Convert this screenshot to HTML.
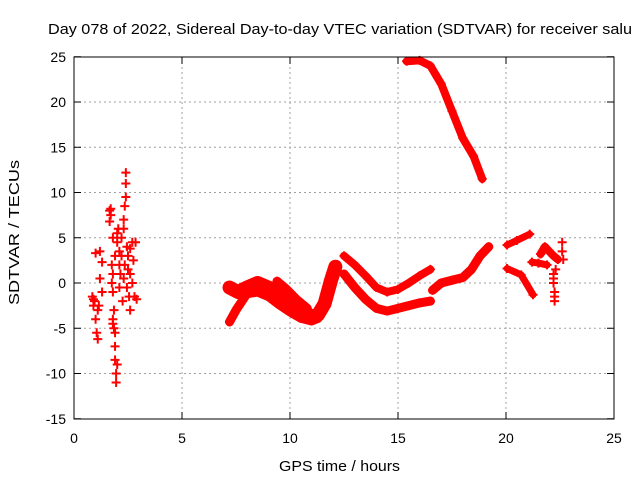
<!DOCTYPE html>
<html><head><meta charset="utf-8"><style>
body{margin:0;background:#fff}
svg{display:block;font-family:"Liberation Sans",sans-serif}
</style></head><body>
<svg id="c" width="640" height="480">
<text x="48" y="34" font-size="15" textLength="584" lengthAdjust="spacingAndGlyphs">Day 078 of 2022, Sidereal Day-to-day VTEC variation (SDTVAR) for receiver salu</text>
<text x="279" y="471" font-size="15" textLength="121" lengthAdjust="spacingAndGlyphs">GPS time / hours</text>
<text transform="translate(19,305) rotate(-90)" font-size="15" textLength="145" lengthAdjust="spacingAndGlyphs">SDTVAR / TECUs</text>
<g id="grid"></g><g id="marks"></g>
<rect x="74" y="57" width="540" height="362" fill="none" stroke="#000" stroke-width="1"/>
</svg>
<script>
const xTicks=[0,5,10,15,20,25];
const yTicks=[-15,-10,-5,0,5,10,15,20,25];
const scatterPts=[[0.85,-1.5],[0.9,-2.5],[0.95,-2],[1.0,-4],[1.05,-5.5],[1.1,-6.2],[1.0,3.3],[1.2,3.5],[1.15,-2.5],[1.2,0.5],[1.3,2.3],[1.3,-1],[0.9,-1.8],[1.1,-3],
[1.65,8],[1.7,7.5],[1.65,6.8],[1.8,5],[1.8,-4],[1.85,-5],[1.9,-7],[1.9,-8.5],[1.95,-10],[1.95,-11],[1.85,-3],[1.8,1],[1.75,0],[1.9,3],[1.7,8.2],[1.8,-4.5],[1.9,-5.5],[2.0,-9],[1.75,2],[1.8,-1],
[2.0,4.5],[2.05,6],[2.1,2],[2.1,-0.5],[2.2,5],[2.2,3],[2.25,-2],[2.3,0.5],[2.3,7],[2.35,8.5],[2.4,9.5],[2.4,11],[2.4,12.2],[2.45,4],[2.0,5.5],[2.1,3.5],[2.15,1],[2.3,6],[2.35,2],
[2.5,1.5],[2.55,-1.5],[2.6,-3],[2.6,3.8],[2.7,4.5],[2.75,2.5],[2.8,-1.5],[2.85,4.5],[2.9,-1.8],[2.45,-0.5],[2.5,3],[2.7,0],[2.6,1]];
const segA=[[7.2,-0.5],[7.6,-1],[8,-0.5],[8.5,0],[9,-0.5],[9.5,-1.3],[10,-2.3],[10.5,-3.2],[11,-3.7],[11.3,-3.5],[11.6,-2.3],[11.9,0.3],[12.1,1.8]];
const segA2=[[7.2,-4.3],[7.5,-3],[8,-1.2],[8.5,-1],[9,-1.5],[9.5,-2.4],[10,-3.2],[10.5,-3.9],[11,-4.2],[11.3,-3.9]];
const segA3=[[9.4,0.2],[9.8,-0.6],[10.3,-1.8],[10.8,-2.8]];
const segB1=[[12.5,3],[13,2],[13.5,0.8],[14,-0.5],[14.5,-1],[15,-0.7],[15.5,0],[16,0.8],[16.5,1.5]];
const segB2=[[12.5,1],[13,-0.5],[13.5,-1.8],[14,-2.8],[14.5,-3.1],[15,-2.8],[15.5,-2.5],[16,-2.2],[16.5,-2]];
const segC=[[16.6,-0.8],[17,0],[17.5,0.3],[18,0.6],[18.4,1.5],[18.8,3],[19.2,4]];
const segD=[[15.4,24.5],[16,24.6],[16.5,24],[17,22],[17.5,19],[18,16],[18.5,14],[18.9,11.5]];
const segE1=[[20.05,4.2],[20.5,4.7],[21.1,5.4]];
const segE2=[[20.05,1.6],[20.7,0.9],[21.25,-1.3]];
const segE3=[[21.6,3.2],[21.8,4],[22.0,3.5],[22.2,3],[22.4,2.6]];
const segE4=[[21.2,2.3],[21.5,2.2],[21.9,2]];
const sparseE=[[22.2,1],[22.2,0],[22.25,-1],[22.25,-2],[22.6,4.5],[22.6,3.5],[22.65,2.6],[22.3,1.5],[22.2,0.5],[22.25,-1.5]];
const X=v=>74+v*21.6, Y=v=>283-v*9.05;
const ns="http://www.w3.org/2000/svg";
const g=document.getElementById('grid'), m=document.getElementById('marks');
function mk(t,a,p){const e=document.createElementNS(ns,t);for(const k in a)e.setAttribute(k,a[k]);p.appendChild(e);return e;}
xTicks.forEach(v=>{
 if(v>0&&v<25){const l=mk('line',{x1:X(v),x2:X(v),y1:57,y2:419,stroke:'#a0a0a0','stroke-dasharray':'2,3'},g);
 
 }
 const t=mk('text',{x:X(v),y:443,'font-size':14,'text-anchor':'middle'},g);t.textContent=v;
 
 
 mk('line',{x1:X(v),x2:X(v),y1:419,y2:412,stroke:'#000'},g);mk('line',{x1:X(v),x2:X(v),y1:57,y2:64,stroke:'#000'},g);
});
yTicks.forEach(v=>{
 if(v>-15&&v<25){const l=mk('line',{x1:74,x2:614,y1:Y(v),y2:Y(v),stroke:'#a0a0a0','stroke-dasharray':'2,3'},g);
 
 }
 const t=mk('text',{x:66,y:Y(v)+5,'font-size':14,'text-anchor':'end'},g);t.textContent=v;
 
 
 mk('line',{x1:74,x2:81,y1:Y(v),y2:Y(v),stroke:'#000'},g);mk('line',{x1:614,x2:607,y1:Y(v),y2:Y(v),stroke:'#000'},g);
});
function plus(p){const x=X(p[0]),y=Y(p[1]);
 const e=mk('path',{d:`M${x-4.5},${y}H${x+4.5}M${x},${y-4.5}V${y+4.5}`,stroke:'red','stroke-width':2},m);
 
 }
function band(arr,w){const e=mk('polyline',{points:arr.map(p=>X(p[0])+','+Y(p[1])).join(' '),fill:'none',stroke:'red','stroke-width':w,'stroke-linejoin':'round','stroke-linecap':'round'},m);
 
 
 arr.forEach(plus);}
scatterPts.forEach(plus);
band(segA,14);band(segA2,9);band(segA3,9);band(segB1,8);band(segB2,9);band(segC,9);band(segD,8);
band(segE1,7);band(segE2,7);band(segE3,8);band(segE4,7);
sparseE.forEach(plus);
</script>
</body></html>
